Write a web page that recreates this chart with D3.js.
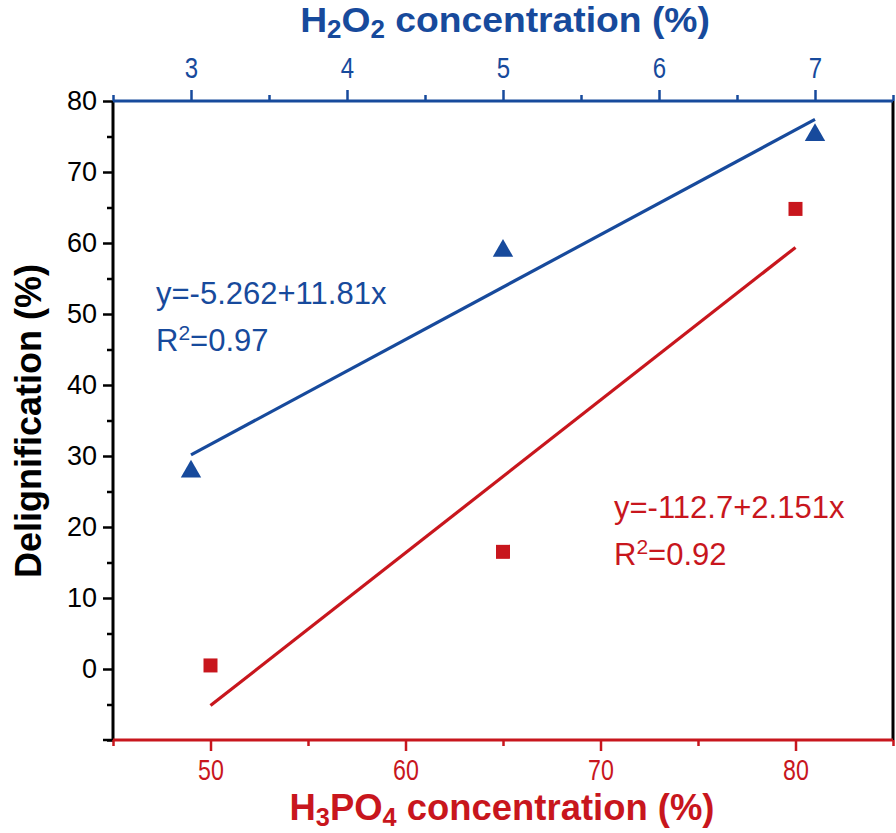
<!DOCTYPE html>
<html>
<head>
<meta charset="utf-8">
<script src="https://cdn.jsdelivr.net/npm/d3@7"></script>
<style>
  body { margin: 0; background: #fff; }
  svg { display: block; }
  text { font-family: "Liberation Sans", Arial, sans-serif; }
</style>
</head>
<body>
<div class="container"></div>
<script>
// DATA
// H2O2 series (top axis) - blue triangles
const h2o2Conc = [3, 5, 7];
const h2o2Delig = [27.8, 58.9, 75.2];
// H3PO4 series (bottom axis) - red squares
const h3po4Conc = [50, 65, 80];
const h3po4Delig = [0.5, 16.5, 64.8];
// linear fits: [intercept, slope]
const h2o2Fit = [-5.262, 11.81];
const h3po4Fit = [-112.7, 2.151];
const h2o2FitText = ["y=-5.262+11.81x", "0.97"];
const h3po4FitText = ["y=-112.7+2.151x", "0.92"];

// tick values
const yMajor = [0, 10, 20, 30, 40, 50, 60, 70, 80];
const yMinor = [-10, -5, 5, 15, 25, 35, 45, 55, 65, 75];
const topMajor = [3, 4, 5, 6, 7];
const topMinor = [2.5, 3.5, 4.5, 5.5, 6.5, 7.5];
const botMajor = [50, 60, 70, 80];
const botMinor = [45, 55, 65, 75, 85];

const BLUE = "#174a9c";
const RED = "#c8161d";

// SETUP
const W = 896, H = 833;
const margin = { top: 101, right: 3, bottom: 93, left: 113 };
const width = W - margin.left - margin.right,
      height = H - margin.top - margin.bottom;

const svg = d3.select("div.container")
  .append("svg")
  .attr("width", W)
  .attr("height", H);

const g = svg.append("g")
  .attr("transform", `translate(${margin.left}, ${margin.top})`);

const y = d3.scaleLinear().domain([-10, 80]).range([height, 0]);
const xTop = d3.scaleLinear().domain([2.5, 7.5]).range([0, width]);
const xBot = d3.scaleLinear().domain([45, 85]).range([0, width]);

// horizontally squeeze a text element so it spans a given width
function fitWidth(sel, target) {
  const w = sel.node().getComputedTextLength();
  const t = sel.attr("transform") || "";
  sel.attr("transform", `${t} scale(${target / w}, 1)`);
}

// AXES
// left - black
g.append("g")
  .call(d3.axisLeft(y).tickValues(yMinor).tickSize(6).tickFormat(""))
  .call(a => a.select(".domain").remove());
const yAx = g.append("g")
  .call(d3.axisLeft(y).tickValues(yMajor).tickSize(10).tickPadding(6))
  .call(a => a.select(".domain").remove());
yAx.selectAll("text").style("font-size", "27px").attr("fill", "#000");
g.selectAll(".tick line").attr("stroke", "#000").attr("stroke-width", 2.5);
// bottom-left corner tick
g.append("line")
  .attr("x1", -10).attr("x2", 0)
  .attr("y1", y(-10)).attr("y2", y(-10))
  .attr("stroke", "#000").attr("stroke-width", 2.5);

// top - blue
const topG = g.append("g");
topG.append("g")
  .call(d3.axisTop(xTop).tickValues(topMinor).tickSize(6).tickFormat(""));
const topAx = topG.append("g")
  .call(d3.axisTop(xTop).tickValues(topMajor).tickSize(11).tickPadding(12).tickFormat(d3.format("d")));
topG.selectAll(".domain").remove();
topG.selectAll(".tick line").attr("stroke", BLUE).attr("stroke-width", 2.5);
topAx.selectAll("text")
  .style("font-size", "30px").attr("fill", BLUE)
  .attr("transform", "scale(0.8,1)");

// bottom - red
const botG = g.append("g").attr("transform", `translate(0, ${height})`);
botG.append("g")
  .call(d3.axisBottom(xBot).tickValues(botMinor).tickSize(6).tickFormat(""));
const botAx = botG.append("g")
  .call(d3.axisBottom(xBot).tickValues(botMajor).tickSize(11).tickPadding(8));
botG.selectAll(".domain").remove();
botG.selectAll(".tick line").attr("stroke", RED).attr("stroke-width", 2.5);
botAx.selectAll("text")
  .style("font-size", "29px").attr("fill", RED)
  .attr("transform", "scale(0.8,1)");

// frame
g.append("line").attr("x1", 0).attr("x2", 0).attr("y1", 0).attr("y2", height)
  .attr("stroke", "#000").attr("stroke-width", 3);
g.append("line").attr("x1", width).attr("x2", width).attr("y1", 0).attr("y2", height)
  .attr("stroke", "#000").attr("stroke-width", 3);
g.append("line").attr("x1", 0).attr("x2", width).attr("y1", 0).attr("y2", 0)
  .attr("stroke", BLUE).attr("stroke-width", 3);
g.append("line").attr("x1", 0).attr("x2", width).attr("y1", height).attr("y2", height)
  .attr("stroke", RED).attr("stroke-width", 3);

// AXIS TITLES
function chemTitle(parts, cx, cy, color, target) {
  const t = svg.append("text")
    .attr("text-anchor", "middle")
    .attr("transform", `translate(${cx}, ${cy})`)
    .attr("fill", color)
    .style("font-size", "36px").style("font-weight", "bold");
  parts.forEach(p => {
    const s = t.append("tspan").text(p[0]);
    if (p[1]) s.attr("baseline-shift", "-0.22em").style("font-size", "25px");
  });
  fitWidth(t, target);
}
chemTitle([["H"], ["2", 1], ["O"], ["2", 1], [" concentration (%)"]], 505, 32, BLUE, 410);
chemTitle([["H"], ["3", 1], ["PO"], ["4", 1], [" concentration (%)"]], 502, 820, RED, 425);

svg.append("text")
  .attr("text-anchor", "middle")
  .attr("transform", `translate(${41}, ${421}) rotate(-90)`)
  .attr("fill", "#000")
  .style("font-size", "36px").style("font-weight", "bold")
  .text("Delignification (%)");

// FIT LINES
const fitLine = (coef, xs, xScale) => d3.line()
  .x(d => xScale(d))
  .y(d => y(coef[0] + coef[1] * d))(d3.extent(xs));

g.append("path")
  .attr("d", fitLine(h2o2Fit, h2o2Conc, xTop))
  .attr("fill", "none").attr("stroke", BLUE).attr("stroke-width", 3.2);
g.append("path")
  .attr("d", fitLine(h3po4Fit, h3po4Conc, xBot))
  .attr("fill", "none").attr("stroke", RED).attr("stroke-width", 3.2);

// MARKERS
g.selectAll("path.tri")
  .data(h2o2Conc)
  .enter()
  .append("path")
  .attr("class", "tri")
  .attr("d", d3.symbol(d3.symbolTriangle, 180))
  .attr("transform", (d, i) => `translate(${xTop(d)}, ${y(h2o2Delig[i])})`)
  .attr("fill", BLUE);

g.selectAll("path.sq")
  .data(h3po4Conc)
  .enter()
  .append("path")
  .attr("class", "sq")
  .attr("d", d3.symbol(d3.symbolSquare, 196))
  .attr("transform", (d, i) => `translate(${xBot(d)}, ${y(h3po4Delig[i])})`)
  .attr("fill", RED);

// EQUATION LABELS
function equation(lines, x0, y0, color) {
  const t = svg.append("g").attr("fill", color).style("font-size", "31px");
  t.append("text").attr("x", x0).attr("y", y0).text(lines[0]);
  const r = t.append("text").attr("x", x0).attr("y", y0 + 47);
  r.append("tspan").text("R");
  r.append("tspan").text("2").attr("baseline-shift", "super").style("font-size", "21px");
  r.append("tspan").text("=" + lines[1]);
}
equation(h2o2FitText, 156, 304, BLUE);
equation(h3po4FitText, 614, 518, RED);
</script>
</body>
</html>
